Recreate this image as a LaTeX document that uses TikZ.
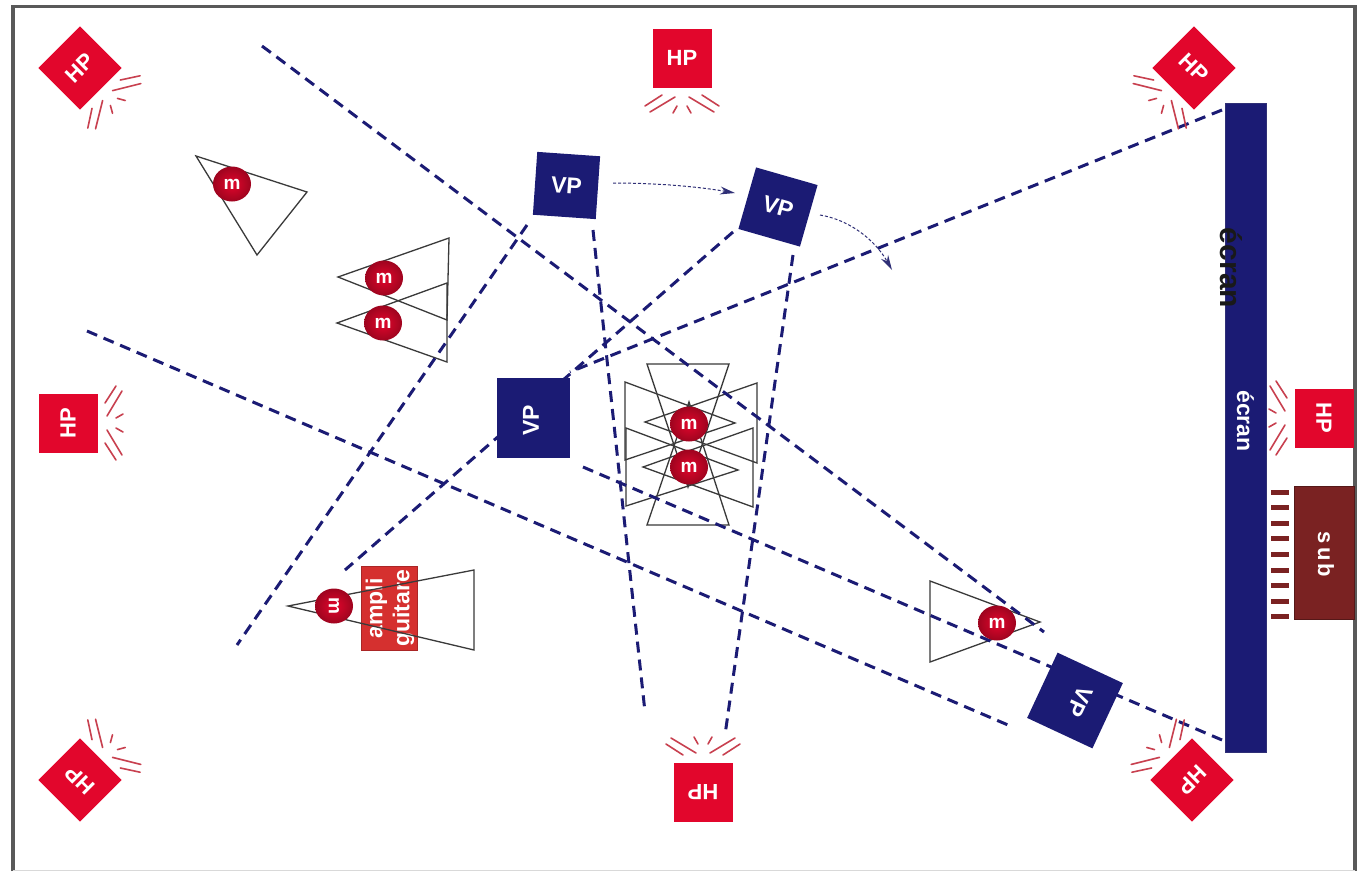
\documentclass[tikz,border=0pt]{standalone}
\usepackage{fontspec}
\setmainfont{Liberation Sans}
\usetikzlibrary{arrows.meta,calc,shapes.geometric}
\definecolor{hpred}{HTML}{E2062C}
\definecolor{navy}{HTML}{1B1B74}
\definecolor{raycol}{HTML}{C8404F}
\definecolor{subcol}{HTML}{7A2222}
\definecolor{ampcol}{HTML}{D5302F}
\definecolor{tri}{HTML}{3A3A3A}
\tikzset{
  hpbox/.style={fill=hpred,minimum size=59pt,inner sep=0pt,text=white,font=\bfseries\fontsize{22}{24}\selectfont},
  vpbox/.style={fill=navy,inner sep=0pt,text=white,font=\bfseries\fontsize{23}{24}\selectfont},
  ray/.style={draw=raycol,line width=1.6pt,line cap=round},
  beam/.style={draw=navy,line width=3pt,dash pattern=on 11pt off 7pt},
  cone/.style={draw=tri,line width=1.3pt,line join=miter},
  move/.style={draw=navy!80!gray,line width=1pt,densely dashed,-{Stealth[length=15pt,width=8pt]}},
  mball/.style={ellipse,minimum width=38pt,minimum height=35pt,inner sep=0pt,draw=none,text=white,font=\bfseries\fontsize{19}{20}\selectfont},
}
\newcommand{\hpspk}[4]{%
  \node[hpbox,rotate=#4] (#1) at (#2,#3) {HP};
  \begin{scope}[shift={(#2,#3)},rotate=#4]
    \foreach \s in {-1,1}{
      \draw[ray] (\s*20,37) -- (\s*37,48);
      \draw[ray] (\s*7,39) -- (\s*32,54);
      \draw[ray] (\s*5,48) -- (\s*9,55);
    }
  \end{scope}
}
\newcommand{\mnode}[4]{%
  \shade[inner color=hpred,outer color=hpred!70!black] (#2,#3) ellipse (19pt and 17.5pt);
  \node[mball,rotate=#4] (#1) at (#2,#3) {m};
}
\begin{document}
\begin{tikzpicture}[x=1pt,y=-1pt]
\useasboundingbox (0,0) rectangle (1361,871);
\fill[white] (0,0) rectangle (1361,871);
% frame
\draw[line width=3.5pt,draw=black!65] (13,871) -- (13,6.5) -- (1355,6.5) -- (1355,871);
\draw[line width=1pt,draw=black!15] (13,870.5) -- (1355,870.5);

% free ends of beams
\coordinate (b1a) at (262,46);   \coordinate (b1b) at (1044,632);
\coordinate (b2a) at (1222,110); \coordinate (b2b) at (570,372);
\coordinate (b3a) at (527,225);  \coordinate (b3b) at (237,645);
\coordinate (b4a) at (733,232);  \coordinate (b4b) at (345,570);
\coordinate (b5a) at (593,230);  \coordinate (b5b) at (645,712);
\coordinate (b6a) at (793,255);  \coordinate (b6b) at (725,735);
\coordinate (b7a) at (87,331);   \coordinate (b7b) at (1008,725);
\coordinate (b8a) at (583,467);  \coordinate (b8b) at (1222,740);

% ampli under cone
\node[fill=ampcol,draw=ampcol!80!black,line width=0.8pt,minimum width=56pt,minimum height=84pt,inner sep=0pt] (amp) at (389.5,608) {};
\node[rotate=90,text=white,font=\bfseries\fontsize{23}{27}\selectfont,align=center,inner sep=0pt] (amptext) at (390,608.5) {ampli\\guitare};

% cones
\draw[cone] (196,156) -- (307,192) -- (257,255) -- cycle;
\draw[cone] (338,277) -- (449,238) -- (447,320) -- cycle;
\draw[cone] (337,323) -- (447,283) -- (447,362) -- cycle;
\draw[cone] (647,364) -- (729,364) -- (688,487) -- cycle;
\draw[cone] (647,525) -- (729,525) -- (689,402) -- cycle;
\draw[cone] (625,382) -- (625,460) -- (735,423) -- cycle;
\draw[cone] (626,428) -- (626,506) -- (738,470) -- cycle;
\draw[cone] (757,383) -- (757,463) -- (645,422) -- cycle;
\draw[cone] (753,428) -- (753,507) -- (643,467) -- cycle;
\draw[cone] (288,606) -- (474,570) -- (474,650) -- cycle;
\draw[cone] (930,581) -- (930,662) -- (1040,622) -- cycle;

% beams
\draw[beam] (b1a) -- (b1b);
\draw[beam] (b2a) -- (b2b);
\draw[beam] (b3a) -- (b3b);
\draw[beam] (b4a) -- (b4b);
\draw[beam] (b5a) -- (b5b);
\draw[beam] (b6a) -- (b6b);
\draw[beam] (b7a) -- (b7b);
\draw[beam] (b8a) -- (b8b);

% musicians
\mnode{m1}{232}{184}{0}
\mnode{m2}{384}{278}{0}
\mnode{m3}{383}{323}{0}
\mnode{m4}{689}{424}{0}
\mnode{m5}{689}{467}{0}
\mnode{m6}{334}{606}{-90}
\mnode{m7}{997}{623}{0}

% projectors
\node[vpbox,minimum size=63pt,rotate=-4] (vp1) at (566.5,185.5) {VP};
\node[vpbox,minimum size=64pt,rotate=-16] (vp2) at (778,207) {VP};
\node[vpbox,minimum width=80pt,minimum height=73pt,rotate=90] (vp3) at (533.5,418) {};
\node[vpbox,rotate=90] (vp3t) at (531,420) {VP};
\node[vpbox,minimum size=72pt,rotate=-115] (vp4) at (1075,700.5) {};
\node[vpbox,rotate=-115] (vp4t) at (1080,702) {VP};

% movement arrows
\coordinate (a1s) at (613,183); \coordinate (a1e) at (735,193);
\coordinate (a2s) at (820,215); \coordinate (a2e) at (892,270);
\draw[move] (a1s) .. controls (660,183) and (700,187) .. (a1e);
\draw[move] (a2s) .. controls (850,220) and (875,240) .. (a2e);

% speakers
\hpspk{hp1}{80}{68}{45}
\hpspk{hp2}{682}{58}{0}
\hpspk{hp3}{1194}{68}{-45}
\hpspk{hp4}{68}{423}{90}
\hpspk{hp5}{1324}{418}{-90}
\hpspk{hp6}{80}{780}{135}
\hpspk{hp7}{703}{792}{180}
\hpspk{hp8}{1192}{780}{-135}

% screen
\node[fill=navy,draw=navy!80!gray,line width=0.6pt,minimum width=41pt,minimum height=649pt,inner sep=0pt] (screen) at (1246,427.5) {};
\node[rotate=-90,anchor=base,text=white,font=\bfseries\fontsize{23}{24}\selectfont,inner sep=0pt] (ecr1) at (1237,421) {écran};
\node[rotate=-90,anchor=base,text=black!90,font=\bfseries\fontsize{30}{32}\selectfont,inner sep=0pt] (ecr2) at (1220,268) {écran};

% sub
\node[fill=subcol,draw=subcol!70!black,line width=0.8pt,minimum width=60pt,minimum height=133pt,inner sep=0pt] (sub) at (1324,552.5) {};
\node[rotate=-90,anchor=base,text=white,font=\bfseries\fontsize{22}{24}\selectfont,inner sep=0pt] (subt) at (1318,554.5) {s\hspace{3pt}u\hspace{3pt}b};
\foreach \i in {0,...,8}{
  \fill[subcol] (1271,{489.5+15.6*\i}) rectangle (1289,{494.5+15.6*\i});
}
\end{tikzpicture}
\end{document}
